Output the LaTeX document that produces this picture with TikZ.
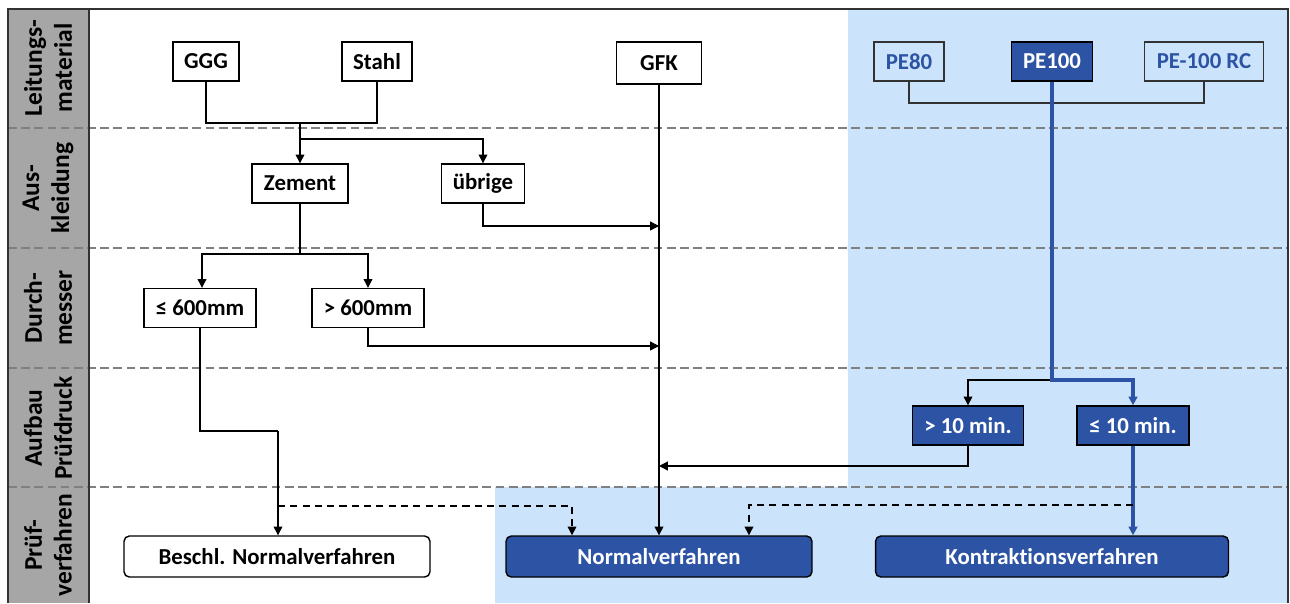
\documentclass[tikz,border=0pt]{standalone}
\usepackage{fontspec}
\setmainfont{Carlito}[Ligatures=NoCommon]
\usepackage{tikz}
\usetikzlibrary{arrows.meta, positioning}
\definecolor{pipeblue}{RGB}{45,84,164}
\definecolor{pipelight}{RGB}{204,228,251}
\definecolor{lanegray}{RGB}{166,166,166}
\definecolor{sepgray}{RGB}{128,128,128}
\definecolor{framegray}{RGB}{50,50,50}
\tikzset{
  box/.style={rectangle, draw=black, line width=0.8pt, fill=white,
    minimum height=0.78cm, inner sep=0pt, font=\fontsize{13}{15}\selectfont\bfseries},
  bluebox/.style={box, fill=pipeblue, text=white},
  pebox/.style={box, fill=pipelight, draw=framegray, text=pipeblue},
  endbox/.style={box, rounded corners=3pt, minimum height=0.82cm, minimum width=6.12cm},
  blueend/.style={endbox, fill=pipeblue, text=white},
  lane/.style={rotate=90, align=center, font=\fontsize{14.5}{17}\selectfont\bfseries},
  line/.style={line width=0.7pt},
  arrow/.style={-{Triangle[length=5pt, width=5pt]}, line width=0.7pt},
  dasharrow/.style={arrow, dash pattern=on 4pt off 3pt},
  bluearrow/.style={-{Triangle[length=5pt, width=5pt]}, line width=1.8pt, color=pipeblue},
  sep/.style={dash pattern=on 5pt off 2.5pt, line width=1.3pt, color=sepgray},
}

\begin{document}
\begin{tikzpicture}[x=0.02cm, y=-0.02cm]
  \useasboundingbox (0,0) rectangle (1290,603);
  % background areas
  \fill[pipelight] (848,9) -- (1288,9) -- (1288,603) -- (495,603)
    -- (495,487) -- (848,487) -- cycle;
  \fill[lanegray] (8,9) rectangle (89,603);
  \foreach \y in {128,248,368,487}
    \draw[sep] (8,\y) -- (1288,\y);
  \draw[line width=1.2pt, color=framegray] (8,603) -- (8,9) -- (1288,9) -- (1288,603);
  \draw[line width=1pt, color=framegray] (89,9) -- (89,603);

  % lane labels
  \node[lane] (l1) at (48,68) {Leitungs-\\material};
  \node[lane] (l2) at (48,188) {Aus-\\kleidung};
  \node[lane] (l3) at (48,308) {Durch-\\messer};
  \node[lane] (l4) at (48,428) {Aufbau\\Prüfdruck};
  \node[lane] (l5) at (48,545) {Prüf-\\verfahren};

  % material
  \node[box, minimum width=1.32cm] (ggg) at (206,61.5) {GGG};
  \node[box, minimum width=1.40cm] (stahl) at (377,61.5) {Stahl};
  \node[box, minimum width=1.70cm, minimum height=0.84cm] (gfk) at (659,63) {GFK};
  \node[pebox, minimum width=1.40cm] (pe80) at (909,61.5) {PE80};
  \node[bluebox, minimum width=1.62cm] (pe100) at (1052,61.5) {PE100};
  \node[pebox, minimum width=2.38cm] (perc) at (1204,61.5) {PE-100 RC};

  % lining
  \node[box, minimum width=1.92cm] (zement) at (300,183.5) {Zement};
  \node[box, minimum width=1.66cm] (uebrige) at (483,183.5) {übrige};

  % diameter
  \node[box, minimum width=2.24cm] (le600) at (200,308) {≤ 600mm};
  \node[box, minimum width=2.24cm] (gt600) at (368,308) {> 600mm};

  % pressure build-up
  \node[bluebox, minimum width=2.22cm] (gt10) at (968,425.5) {> 10 min.};
  \node[bluebox, minimum width=2.24cm] (le10) at (1133,425.5) {≤ 10 min.};

  % test procedures
  \node[endbox] (beschl) at (277,556.5) {Beschl. Normalverfahren};
  \node[blueend] (normal) at (659,556.5) {Normalverfahren};
  \node[blueend, minimum width=7.06cm] (kontr) at (1052,556.5) {Kontraktionsverfahren};

  % junctions
  \coordinate (mj) at (300,123);
  \coordinate (ab) at (300,139);
  \coordinate (zs) at (300,254);
  \coordinate (g1) at (659,226);
  \coordinate (g2) at (659,346);
  \coordinate (g3) at (659,466);
  \coordinate (kink) at (278,431);
  \coordinate (dl) at (278,506);
  \coordinate (dr) at (1133,505);
  \coordinate (pej) at (1052,103);
  \coordinate (split) at (1052,380);

  % connectors
  \draw[line] (ggg.south) |- (mj) -| (stahl.south);
  \draw[arrow] (mj) -- (zement.north);
  \draw[arrow] (ab) -| (uebrige.north);
  \draw[arrow] (uebrige.south) |- (g1);
  \draw[line] (zement.south) -- (zs);
  \draw[arrow] (zs) -| ([xshift=0.04cm]le600.north);
  \draw[arrow] (zs) -| (gt600.north);
  \draw[arrow] (gt600.south) |- (g2);
  \draw[line] (le600.south) |- (kink);
  \draw[arrow] (kink) -- (beschl.north -| kink);
  \draw[dasharrow] (dl) -| ([xshift=-1.74cm]normal.north);
  \draw[arrow] (gfk.south) -- (normal.north);
  \draw[line, color=framegray] (pe80.south) |- (pej) -| (perc.south);
  \draw[arrow] (split) -| (gt10.north);
  \draw[bluearrow] (pe100.south) -- (split) -| (le10.north);
  \draw[arrow] (gt10.south) |- (g3);
  \draw[bluearrow] (le10.south) -- (kontr.north -| le10.south);
  \draw[dasharrow] (dr) -| ([xshift=1.8cm]normal.north);
\end{tikzpicture}
\end{document}
